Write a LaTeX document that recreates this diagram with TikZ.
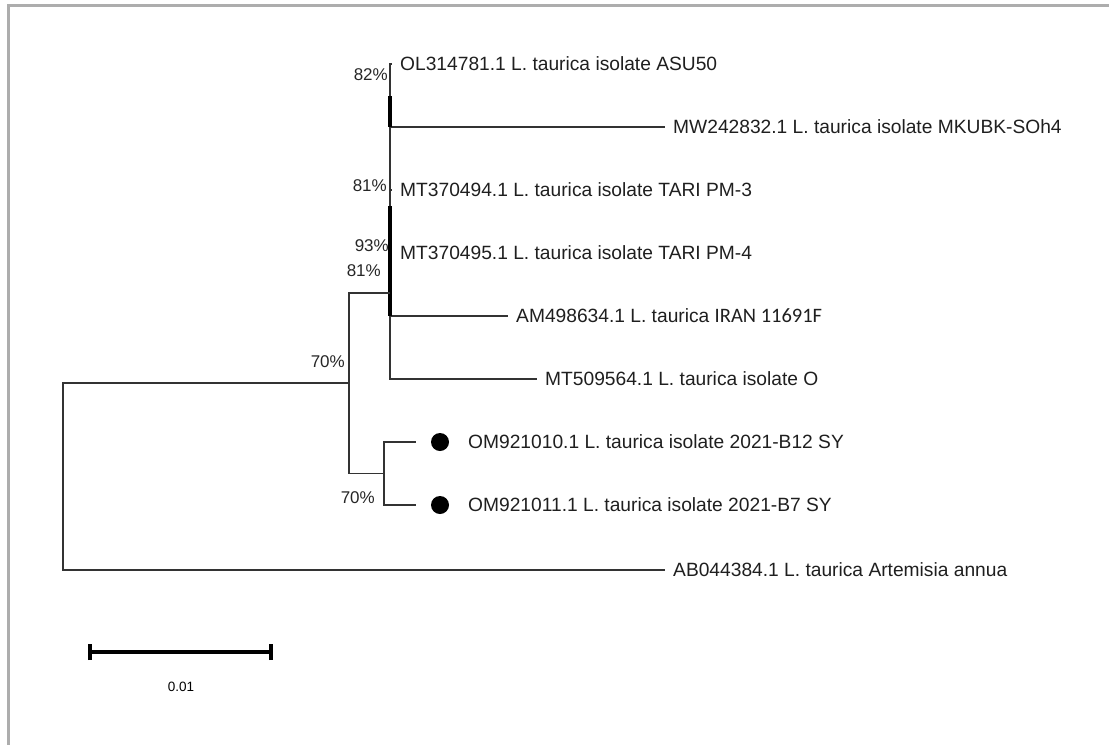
\documentclass[tikz,border=0pt]{standalone}
\usepackage{fontspec}
\setmainfont{Liberation Sans}
\newfontfamily\calib{Carlito}
\begin{document}
\begin{tikzpicture}[x=1pt,y=-1pt,
  leaf/.style={anchor=west,inner xsep=8pt,inner ysep=0pt,font=\fontsize{19.2}{21}\selectfont,text=black!88},
  boot/.style={anchor=east,inner sep=0pt,font=\fontsize{17}{19}\selectfont,text=black!85},
  br/.style={draw=black!80,line width=1.4pt},
  thk/.style={draw=black,line width=3.4pt},
  dot/.style={circle,fill=black,inner sep=0pt,minimum size=18pt},
  scalebar/.style={draw=black,line width=4.2pt}]
\useasboundingbox (0,0) rectangle (1109,745);
\draw[draw=black!32,line width=2.2pt] (1109,5.5) -- (8.5,5.5) -- (8.5,745);

% leaves
\node[leaf] (OL)   at (392,64)  {OL314781.1 L. taurica isolate ASU50};
\node[leaf] (MW)   at (665,127) {MW242832.1 L. taurica isolate MKUBK-SOh4};
\node[leaf] (M494) at (392,190) {MT370494.1 L. taurica isolate TARI PM-3};
\node[leaf] (M495) at (392,253) {MT370495.1 L. taurica isolate TARI PM-4};
\node[leaf] (AM)   at (508,316) {AM498634.1 L. taurica {\calib\fontsize{20.5}{22}\selectfont IRAN 11691F}};
\node[leaf] (M509) at (537,379) {MT509564.1 L. taurica isolate O};
\coordinate (t1) at (416,442);
\coordinate (t2) at (416,505);
\node[dot] (d1) at (440,442) {};
\node[dot] (d2) at (440,505) {};
\node[leaf,inner xsep=0pt] (OM1) at (468,442) {OM921010.1 L. taurica isolate 2021-B12 SY};
\node[leaf,inner xsep=0pt] (OM2) at (468,505) {OM921011.1 L. taurica isolate 2021-B7 SY};
\node[leaf] (AB)   at (665,570) {AB044384.1 L. taurica Artemisia annua};

% internal nodes
\coordinate (big)  at (390,293);
\coordinate (low)  at (384,473.5);
\coordinate (n70)  at (349,383);
\coordinate (root) at (63,476.5);
\coordinate (k1a) at (390,96);
\coordinate (k1b) at (390,127);
\coordinate (k2a) at (390,206);
\coordinate (k2b) at (390,316);

% branches
\draw[br] (big) |- (OL.west);
\draw[br] (big) |- (MW.west);
\draw[br] (big) |- (M494.west);
\draw[br] (big) |- (M495.west);
\draw[br] (big) |- (AM.west);
\draw[br] (big) |- (M509.west);
\draw[thk] (k1a) -- (k1b);
\draw[thk] (k2a) -- (k2b);
\draw[br] (n70) |- (big);
\draw[br] (n70) |- (low);
\draw[br] (low) |- (t1);
\draw[br] (low) |- (t2);
\draw[br] (root) |- (n70);
\draw[br] (root) |- (AB.west);

% bootstrap values
\node[boot] (b82)  at (388,75)  {82\%};
\node[boot] (b81a) at (387,186) {81\%};
\node[boot] (b93)  at (389,246) {93\%};
\node[boot] (b81b) at (381,271) {81\%};
\node[boot] (b70a) at (345,362) {70\%};
\node[boot] (b70b) at (375,498) {70\%};

% scale bar
\coordinate (s1) at (88,652);
\coordinate (s2) at (273,652);
\draw[scalebar] (s1) -- (s2);
\draw[scalebar] ([xshift=2pt,yshift=-8pt]s1) -- ([xshift=2pt,yshift=8pt]s1);
\draw[scalebar] ([xshift=-2pt,yshift=-8pt]s2) -- ([xshift=-2pt,yshift=8pt]s2);
\node[font=\fontsize{13.5}{15}\selectfont,inner sep=0pt] (sl) at (181,687) {0.01};
\end{tikzpicture}
\end{document}
